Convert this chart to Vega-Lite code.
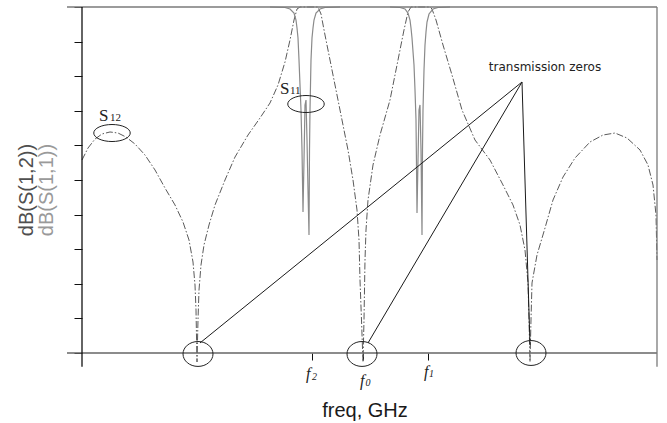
{
  "$schema": "https://vega.github.io/schema/vega-lite/v6.json",
  "width": 590,
  "height": 346,
  "autosize": "none",
  "padding": {"left": 67, "top": 7, "right": 10, "bottom": 70},
  "background": "white",
  "config": {"view": {"stroke": null}},
  "layer": [
    {
      "data": {"values": [
        {"freq": 0.15, "db": -22.11}, {"freq": 0.21, "db": -20.38}, {"freq": 0.28, "db": -19.08}, {"freq": 0.35, "db": -18.35},
        {"freq": 0.43, "db": -18.06}, {"freq": 0.51, "db": -18.21}, {"freq": 0.59, "db": -18.79}, {"freq": 0.68, "db": -19.80},
        {"freq": 0.78, "db": -21.39}, {"freq": 0.88, "db": -23.55}, {"freq": 0.98, "db": -26.16}, {"freq": 1.08, "db": -28.61},
        {"freq": 1.16, "db": -31.07}, {"freq": 1.22, "db": -33.67}, {"freq": 1.26, "db": -36.85}, {"freq": 1.28, "db": -40.17},
        {"freq": 1.29, "db": -43.79}, {"freq": 1.30, "db": -51.30}, {"freq": 1.31, "db": -45.23}, {"freq": 1.32, "db": -40.90},
        {"freq": 1.34, "db": -37.28}, {"freq": 1.37, "db": -34.39}, {"freq": 1.42, "db": -31.50}, {"freq": 1.48, "db": -28.61},
        {"freq": 1.58, "db": -25.00}, {"freq": 1.68, "db": -21.68}, {"freq": 1.81, "db": -18.50}, {"freq": 1.93, "db": -16.04},
        {"freq": 2.03, "db": -13.87}, {"freq": 2.11, "db": -11.27}, {"freq": 2.18, "db": -7.95}, {"freq": 2.23, "db": -4.77},
        {"freq": 2.27, "db": -1.88}, {"freq": 2.30, "db": -0.29}, {"freq": 2.33, "db": 0}, {"freq": 2.51, "db": 0},
        {"freq": 2.54, "db": -1.01}, {"freq": 2.58, "db": -4.05}, {"freq": 2.63, "db": -7.66}, {"freq": 2.69, "db": -11.99},
        {"freq": 2.75, "db": -16.33}, {"freq": 2.81, "db": -20.66}, {"freq": 2.86, "db": -25.00}, {"freq": 2.90, "db": -29.34},
        {"freq": 2.92, "db": -33.67}, {"freq": 2.93, "db": -39.45}, {"freq": 2.945, "db": -45.23}, {"freq": 2.96, "db": -51.30},
        {"freq": 2.97, "db": -45.23}, {"freq": 2.98, "db": -36.56}, {"freq": 2.99, "db": -32.23}, {"freq": 3.01, "db": -27.89},
        {"freq": 3.06, "db": -22.83}, {"freq": 3.13, "db": -18.50}, {"freq": 3.23, "db": -13.44}, {"freq": 3.31, "db": -7.66},
        {"freq": 3.37, "db": -3.32}, {"freq": 3.41, "db": -0.72}, {"freq": 3.44, "db": 0}, {"freq": 3.63, "db": 0},
        {"freq": 3.65, "db": -0.29}, {"freq": 3.69, "db": -1.88}, {"freq": 3.76, "db": -5.49}, {"freq": 3.85, "db": -9.83},
        {"freq": 3.95, "db": -14.88}, {"freq": 4.08, "db": -19.22}, {"freq": 4.23, "db": -22.11}, {"freq": 4.36, "db": -25.72},
        {"freq": 4.46, "db": -28.61}, {"freq": 4.53, "db": -31.50}, {"freq": 4.58, "db": -35.12}, {"freq": 4.61, "db": -39.88},
        {"freq": 4.62, "db": -45.23}, {"freq": 4.63, "db": -51.30}, {"freq": 4.64, "db": -45.23}, {"freq": 4.65, "db": -39.88},
        {"freq": 4.70, "db": -35.84}, {"freq": 4.78, "db": -31.94}, {"freq": 4.86, "db": -27.89}, {"freq": 4.96, "db": -24.57},
        {"freq": 5.08, "db": -21.82}, {"freq": 5.23, "db": -19.51}, {"freq": 5.36, "db": -18.50}, {"freq": 5.48, "db": -18.21},
        {"freq": 5.60, "db": -18.93}, {"freq": 5.73, "db": -20.66}, {"freq": 5.81, "db": -22.83}, {"freq": 5.86, "db": -25.72},
        {"freq": 5.89, "db": -30.06}, {"freq": 5.90, "db": -36.56}
      ]},
      "mark": {"type": "line", "color": "#5a5a5a", "strokeWidth": 1, "strokeDash": [7, 2, 1.5, 2]},
      "encoding": {
        "x": {"field": "freq", "type": "quantitative", "scale": {"domain": [0, 5.9], "nice": false, "zero": false},
              "axis": {"orient": "bottom", "values": [2.45, 2.96, 3.61], "tickCount": 20, "labels": false, "labelOverlap": false, "domain": false, "grid": false, "ticks": true, "tickSize": 7, "tickColor": "#111111", "tickWidth": 1, "tickOpacity": 1, "title": ""}},
        "y": {"field": "db", "type": "quantitative", "scale": {"domain": [-50, 0], "nice": false, "zero": false},
              "axis": {"orient": "left", "values": [-50, -45, -40, -35, -30, -25, -20, -15, -10, -5, 0], "tickCount": 20, "offset": -15, "labels": false, "labelOverlap": false, "domain": false, "grid": false, "ticks": true, "tickSize": 8, "tickColor": "#111111", "tickWidth": 1, "tickOpacity": 1, "title": ""}}
      }
    },
    {
      "data": {"values": [
        {"seg": "a", "freq": 2.03, "db": 0}, {"seg": "a", "freq": 2.18, "db": -0.07}, {"seg": "a", "freq": 2.23, "db": -0.29},
        {"seg": "a", "freq": 2.27, "db": -0.87}, {"seg": "a", "freq": 2.29, "db": -1.88}, {"seg": "a", "freq": 2.30, "db": -3.03},
        {"seg": "a", "freq": 2.31, "db": -4.48}, {"seg": "a", "freq": 2.32, "db": -7.66}, {"seg": "a", "freq": 2.33, "db": -11.27},
        {"seg": "a", "freq": 2.34, "db": -14.88}, {"seg": "a", "freq": 2.35, "db": -20.66}, {"seg": "a", "freq": 2.36, "db": -29.62},
        {"seg": "a", "freq": 2.37, "db": -22.11}, {"seg": "a", "freq": 2.38, "db": -14.16}, {"seg": "a", "freq": 2.39, "db": -13.44},
        {"seg": "a", "freq": 2.40, "db": -19.22}, {"seg": "a", "freq": 2.41, "db": -26.45}, {"seg": "a", "freq": 2.42, "db": -32.95},
        {"seg": "a", "freq": 2.425, "db": -20.66}, {"seg": "a", "freq": 2.43, "db": -14.88}, {"seg": "a", "freq": 2.44, "db": -7.66},
        {"seg": "a", "freq": 2.45, "db": -4.48}, {"seg": "a", "freq": 2.46, "db": -3.03}, {"seg": "a", "freq": 2.47, "db": -1.88},
        {"seg": "a", "freq": 2.49, "db": -0.87}, {"seg": "a", "freq": 2.53, "db": -0.29}, {"seg": "a", "freq": 2.58, "db": -0.07},
        {"seg": "a", "freq": 2.73, "db": 0},
        {"seg": "b", "freq": 3.23, "db": 0}, {"seg": "b", "freq": 3.33, "db": -0.07}, {"seg": "b", "freq": 3.38, "db": -0.29},
        {"seg": "b", "freq": 3.41, "db": -0.87}, {"seg": "b", "freq": 3.43, "db": -1.88}, {"seg": "b", "freq": 3.44, "db": -3.03},
        {"seg": "b", "freq": 3.45, "db": -4.48}, {"seg": "b", "freq": 3.47, "db": -8.38}, {"seg": "b", "freq": 3.48, "db": -11.99},
        {"seg": "b", "freq": 3.49, "db": -16.33}, {"seg": "b", "freq": 3.50, "db": -29.77}, {"seg": "b", "freq": 3.51, "db": -22.11},
        {"seg": "b", "freq": 3.52, "db": -14.88}, {"seg": "b", "freq": 3.53, "db": -14.16}, {"seg": "b", "freq": 3.54, "db": -20.66},
        {"seg": "b", "freq": 3.55, "db": -32.95}, {"seg": "b", "freq": 3.555, "db": -20.66}, {"seg": "b", "freq": 3.56, "db": -14.88},
        {"seg": "b", "freq": 3.57, "db": -9.10}, {"seg": "b", "freq": 3.58, "db": -5.49}, {"seg": "b", "freq": 3.59, "db": -3.61},
        {"seg": "b", "freq": 3.60, "db": -2.17}, {"seg": "b", "freq": 3.62, "db": -1.01}, {"seg": "b", "freq": 3.66, "db": -0.29},
        {"seg": "b", "freq": 3.71, "db": -0.07}, {"seg": "b", "freq": 3.83, "db": 0}
      ]},
      "mark": {"type": "line", "color": "#8a8a8a", "strokeWidth": 1.2},
      "encoding": {
        "x": {"field": "freq", "type": "quantitative"},
        "y": {"field": "db", "type": "quantitative"},
        "detail": {"field": "seg"}
      }
    },
    {
      "data": {"values": [
        {"freq": 0, "db": 0, "freq2": 5.9, "db2": 0}
      ]},
      "mark": {"type": "rule", "color": "#7a7a7a", "strokeWidth": 1.3},
      "encoding": {
        "x": {"field": "freq", "type": "quantitative"},
        "x2": {"field": "freq2"},
        "y": {"field": "db", "type": "quantitative"},
        "y2": {"field": "db2"}
      }
    },
    {
      "data": {"values": [
        {"freq": 0, "db": -50, "freq2": 5.9, "db2": -50}
      ]},
      "mark": {"type": "rule", "color": "#666666", "strokeWidth": 1.5},
      "encoding": {
        "x": {"field": "freq", "type": "quantitative"},
        "x2": {"field": "freq2"},
        "y": {"field": "db", "type": "quantitative"},
        "y2": {"field": "db2"}
      }
    },
    {
      "data": {"values": [
        {"freq": 0.15, "db": 0, "freq2": 0.15, "db2": -52}
      ]},
      "mark": {"type": "rule", "color": "#111111", "strokeWidth": 1.3},
      "encoding": {
        "x": {"field": "freq", "type": "quantitative"},
        "x2": {"field": "freq2"},
        "y": {"field": "db", "type": "quantitative"},
        "y2": {"field": "db2"}
      }
    },
    {
      "data": {"values": [
        {"freq": 5.9, "db": 0, "freq2": 5.9, "db2": -52}
      ]},
      "mark": {"type": "rule", "color": "#7a7a7a", "strokeWidth": 1.3},
      "encoding": {
        "x": {"field": "freq", "type": "quantitative"},
        "x2": {"field": "freq2"},
        "y": {"field": "db", "type": "quantitative"},
        "y2": {"field": "db2"}
      }
    },
    {
      "data": {"values": [
        {"freq": 4.55, "db": -10.84, "freq2": 1.33, "db2": -48.55},
        {"freq": 4.55, "db": -10.84, "freq2": 3.01, "db2": -48.55},
        {"freq": 4.55, "db": -10.84, "freq2": 4.63, "db2": -48.84}
      ]},
      "mark": {"type": "rule", "color": "#1a1a1a", "strokeWidth": 1},
      "encoding": {
        "x": {"field": "freq", "type": "quantitative"},
        "x2": {"field": "freq2"},
        "y": {"field": "db", "type": "quantitative"},
        "y2": {"field": "db2"}
      }
    },
    {
      "data": {"values": [
        {"freq": 0.45, "db": -18.21},
        {"freq": 2.39, "db": -14.02}
      ]},
      "mark": {"type": "point", "filled": false, "stroke": "#222222", "strokeWidth": 1, "opacity": 1, "size": 1332,
               "shape": "M-1,0A1,0.466,0,1,0,1,0A1,0.466,0,1,0,-1,0Z"},
      "encoding": {
        "x": {"field": "freq", "type": "quantitative"},
        "y": {"field": "db", "type": "quantitative"}
      }
    },
    {
      "data": {"values": [
        {"freq": 1.31, "db": -50.14},
        {"freq": 2.95, "db": -50.14},
        {"freq": 4.64, "db": -50.0}
      ]},
      "mark": {"type": "point", "filled": false, "stroke": "#222222", "strokeWidth": 1, "opacity": 1, "size": 900,
               "shape": "M-1,0A1,0.83,0,1,0,1,0A1,0.83,0,1,0,-1,0Z"},
      "encoding": {
        "x": {"field": "freq", "type": "quantitative"},
        "y": {"field": "db", "type": "quantitative"}
      }
    },
    {
      "data": {"values": [
        {"freq": -0.40, "db": -26.45, "label": "dB(S(1,2))"}
      ]},
      "mark": {"type": "text", "angle": 270, "align": "center", "baseline": "middle", "font": "Liberation Sans", "fontSize": 20, "color": "#4f4f4f"},
      "encoding": {
        "x": {"field": "freq", "type": "quantitative"},
        "y": {"field": "db", "type": "quantitative"},
        "text": {"field": "label"}
      }
    },
    {
      "data": {"values": [
        {"freq": -0.20, "db": -26.45, "label": "dB(S(1,1))"}
      ]},
      "mark": {"type": "text", "angle": 270, "align": "center", "baseline": "middle", "font": "Liberation Sans", "fontSize": 20, "color": "#9a9a9a"},
      "encoding": {
        "x": {"field": "freq", "type": "quantitative"},
        "y": {"field": "db", "type": "quantitative"},
        "text": {"field": "label"}
      }
    },
    {
      "data": {"values": [
        {"freq": 2.98, "db": -59.25, "label": "freq, GHz"}
      ]},
      "mark": {"type": "text", "align": "center", "baseline": "alphabetic", "font": "Liberation Sans", "fontSize": 20, "color": "#1a1a1a"},
      "encoding": {
        "x": {"field": "freq", "type": "quantitative"},
        "y": {"field": "db", "type": "quantitative"},
        "text": {"field": "label"}
      }
    },
    {
      "data": {"values": [
        {"freq": 4.78, "db": -9.25, "label": "transmission zeros"}
      ]},
      "mark": {"type": "text", "align": "center", "baseline": "alphabetic", "font": "DejaVu Sans", "fontSize": 12, "color": "#222222"},
      "encoding": {
        "x": {"field": "freq", "type": "quantitative"},
        "y": {"field": "db", "type": "quantitative"},
        "text": {"field": "label"}
      }
    },
    {
      "data": {"values": [
        {"freq": 0.32, "db": -16.47, "label": "S"},
        {"freq": 2.13, "db": -12.57, "label": "S"}
      ]},
      "mark": {"type": "text", "align": "left", "baseline": "alphabetic", "font": "Liberation Serif", "fontSize": 17, "color": "#222222"},
      "encoding": {
        "x": {"field": "freq", "type": "quantitative"},
        "y": {"field": "db", "type": "quantitative"},
        "text": {"field": "label"}
      }
    },
    {
      "data": {"values": [
        {"freq": 0.43, "db": -16.47, "label": "12"},
        {"freq": 2.23, "db": -12.57, "label": "11"}
      ]},
      "mark": {"type": "text", "align": "left", "baseline": "alphabetic", "font": "Liberation Serif", "fontSize": 11, "color": "#222222"},
      "encoding": {
        "x": {"field": "freq", "type": "quantitative"},
        "y": {"field": "db", "type": "quantitative"},
        "text": {"field": "label"}
      }
    },
    {
      "data": {"values": [
        {"freq": 2.39, "db": -53.75, "label": "f"},
        {"freq": 2.93, "db": -54.77, "label": "f"},
        {"freq": 3.57, "db": -53.47, "label": "f"}
      ]},
      "mark": {"type": "text", "align": "left", "baseline": "alphabetic", "font": "Liberation Serif", "fontStyle": "italic", "fontSize": 16, "color": "#222222"},
      "encoding": {
        "x": {"field": "freq", "type": "quantitative"},
        "y": {"field": "db", "type": "quantitative"},
        "text": {"field": "label"}
      }
    },
    {
      "data": {"values": [
        {"freq": 2.45, "db": -53.9, "label": "2"},
        {"freq": 2.985, "db": -54.77, "label": "0"},
        {"freq": 3.62, "db": -53.47, "label": "1"}
      ]},
      "mark": {"type": "text", "align": "left", "baseline": "alphabetic", "font": "Liberation Serif", "fontStyle": "italic", "fontSize": 10, "color": "#222222"},
      "encoding": {
        "x": {"field": "freq", "type": "quantitative"},
        "y": {"field": "db", "type": "quantitative"},
        "text": {"field": "label"}
      }
    }
  ]
}
